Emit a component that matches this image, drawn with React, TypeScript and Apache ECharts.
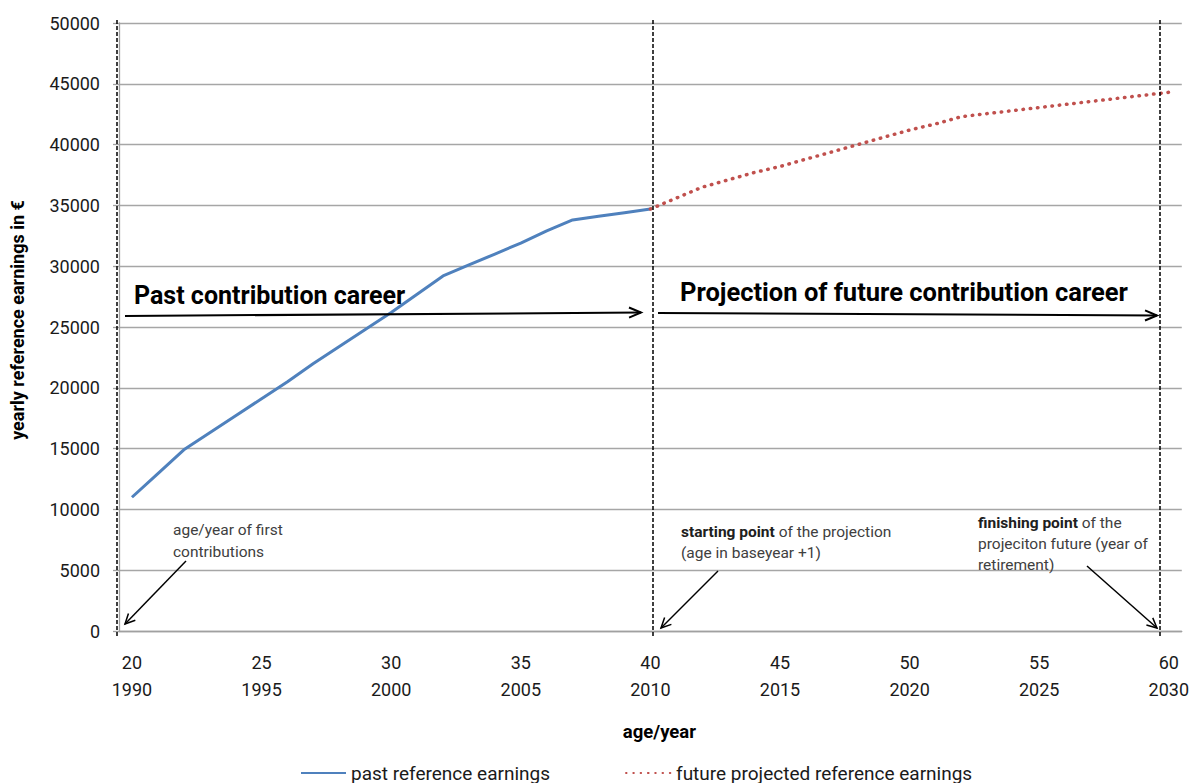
import React, { useEffect, useRef } from "react";
import * as echarts from "echarts";

const ages = [
  "20", "21", "22", "23", "24", "25", "26", "27", "28", "29",
  "30", "31", "32", "33", "34", "35", "36", "37", "38", "39",
  "40", "41", "42", "43", "44", "45", "46", "47", "48", "49",
  "50", "51", "52", "53", "54", "55", "56", "57", "58", "59", "60",
];
const years = [
  "1990", "1991", "1992", "1993", "1994", "1995", "1996", "1997", "1998", "1999",
  "2000", "2001", "2002", "2003", "2004", "2005", "2006", "2007", "2008", "2009",
  "2010", "2011", "2012", "2013", "2014", "2015", "2016", "2017", "2018", "2019",
  "2020", "2021", "2022", "2023", "2024", "2025", "2026", "2027", "2028", "2029", "2030",
];

// past reference earnings, ages 20..40
const pastEarnings = [
  11000, 12950, 14900, 16300, 17700, 19100, 20500, 22000, 23400, 24800,
  26200, 27700, 29200, 30100, 31000, 31900, 32900, 33800, 34100, 34400, 34700,
];
// future projected reference earnings, ages 40..60
const futureEarnings = [
  34700, 35600, 36500, 37100, 37700, 38200, 38800, 39400, 40000, 40600,
  41200, 41700, 42300, 42550, 42800, 43050, 43300, 43550, 43800, 44050, 44300,
];

const yMin = 0;
const yMax = 50000;
const yStep = 5000;

const FONT = "Roboto, 'Noto Sans', sans-serif";

function arrow(x1: number, y1: number, x2: number, y2: number, head: number, spread: number, width: number) {
  const ang = Math.atan2(y2 - y1, x2 - x1);
  const a1 = ang + Math.PI - spread;
  const a2 = ang + Math.PI + spread;
  return [
    { type: "line", z: 100, shape: { x1, y1, x2, y2 }, style: { stroke: "#000", lineWidth: width } },
    {
      type: "polyline",
      z: 100,
      shape: {
        points: [
          [x2 + head * Math.cos(a1), y2 + head * Math.sin(a1)],
          [x2, y2],
          [x2 + head * Math.cos(a2), y2 + head * Math.sin(a2)],
        ],
      },
      style: { stroke: "#000", lineWidth: width, fill: null },
    },
  ];
}

function vDash(x: number) {
  return {
    type: "line",
    z: 100,
    shape: { x1: x, y1: 20, x2: x, y2: 636 },
    style: { stroke: "#000", lineWidth: 1.5, lineDash: [4, 2] },
  };
}

export default function App() {
  const ref = useRef<HTMLDivElement>(null);

  useEffect(() => {
    if (!ref.current) return;
    const chart = echarts.init(ref.current, null, { renderer: "svg" });

    const pastData = ages.map((_, i) => (i < pastEarnings.length ? pastEarnings[i] : null));
    const futureStart = ages.length - futureEarnings.length;
    const futureData = ages.map((_, i) => (i >= futureStart ? futureEarnings[i - futureStart] : null));

    const smallText = {
      fontSize: 15.5,
      fontFamily: FONT,
      fill: "#404040",
      lineHeight: 21,
    };
    const boldRich = { b: { fontSize: 15.5, fontFamily: FONT, fontWeight: "bold", fill: "#202020", lineHeight: 21 } };

    chart.setOption({
      animation: false,
      backgroundColor: "#fff",
      grid: { left: 116, top: 23, width: 1068, height: 608, containLabel: false },
      xAxis: {
        type: "category",
        data: ages,
        boundaryGap: true,
        name: "age/year",
        nameLocation: "middle",
        nameGap: 91,
        nameTextStyle: { fontSize: 18.5, fontWeight: "bold", fontFamily: FONT, color: "#000", padding: [0, 0, 0, 18] },
        axisLine: { lineStyle: { color: "#a0a0a0", width: 1.3 } },
        axisTick: { interval: 4, length: 5, lineStyle: { color: "#a0a0a0", width: 1.3 } },
        axisLabel: {
          interval: 4,
          margin: 18,
          fontSize: 18,
          lineHeight: 27,
          fontFamily: FONT,
          color: "#1a1a1a",
          formatter: (v: string, idx: number) => `${v}\n${years[idx]}`,
        },
        splitLine: { show: false },
      },
      yAxis: {
        type: "value",
        min: yMin,
        max: yMax,
        interval: yStep,
        name: "yearly reference earnings in €",
        nameLocation: "middle",
        nameGap: 93,
        nameTextStyle: { fontSize: 18, fontWeight: "bold", fontFamily: FONT, color: "#000", padding: [0, 0, 0, 14] },
        axisLine: { show: true, lineStyle: { color: "#a0a0a0", width: 1.3 } },
        axisTick: { show: true, length: 6, lineStyle: { color: "#a0a0a0", width: 1.3 } },
        axisLabel: {
          margin: 19,
          fontSize: 18,
          fontFamily: FONT,
          color: "#1a1a1a",
          formatter: (v: number) => String(v),
        },
        splitLine: { lineStyle: { color: "#a6a6a6", width: 1.3 } },
      },
      legend: {
        left: 300,
        top: 763,
        padding: 0,
        itemWidth: 45,
        itemHeight: 2,
        itemGap: 75,
        textStyle: { fontSize: 19, lineHeight: 20, fontFamily: FONT, color: "#1a1a1a" },
        data: ["past reference earnings", "future projected reference earnings"],
      },
      series: [
        {
          name: "past reference earnings",
          type: "line",
          data: pastData,
          symbol: "none",
          showSymbol: false,
          connectNulls: false,
          lineStyle: { color: "#4F81BD", width: 3 },
          itemStyle: { color: "#4F81BD" },
          z: 5,
        },
        {
          name: "future projected reference earnings",
          type: "line",
          data: futureData,
          symbol: "none",
          showSymbol: false,
          connectNulls: false,
          lineStyle: { color: "#C0504D", width: 3.5, type: [0.5, 6.8], cap: "round" },
          itemStyle: { color: "#C0504D" },
          z: 5,
        },
      ],
      graphic: [
        vDash(117),
        vDash(653),
        vDash(1160),
        ...arrow(125, 316, 641, 312.5, 13, 0.4, 2),
        ...arrow(658, 313, 1157, 315.5, 13, 0.4, 2),
        ...arrow(186, 561, 125, 624, 11, 0.45, 1.5),
        ...arrow(718, 571, 661, 628, 11, 0.45, 1.5),
        ...arrow(1087, 566, 1157, 628, 11, 0.45, 1.5),
        {
          type: "text",
          z: 100,
          x: 134,
          y: 295,
          style: { text: "Past contribution career", fontSize: 25, fontWeight: "bold", fontFamily: FONT, fill: "#000", verticalAlign: "middle" },
        },
        {
          type: "text",
          z: 100,
          x: 680,
          y: 292,
          style: { text: "Projection of future contribution career", fontSize: 25.5, fontWeight: "bold", fontFamily: FONT, fill: "#000", verticalAlign: "middle" },
        },
        {
          type: "text",
          z: 100,
          x: 173,
          y: 519,
          style: { ...smallText, lineHeight: 22, text: "age/year of first\ncontributions", verticalAlign: "top" },
        },
        {
          type: "text",
          z: 100,
          x: 681,
          y: 521,
          style: { ...smallText, text: "{b|starting point} of the projection\n(age in baseyear +1)", rich: boldRich, verticalAlign: "top" },
        },
        {
          type: "text",
          z: 100,
          x: 978,
          y: 512,
          style: { ...smallText, text: "{b|finishing point} of the\nprojeciton future (year of\nretirement)", rich: boldRich, verticalAlign: "top" },
        },
      ],
    });

    return () => chart.dispose();
  }, []);

  return (
    <div
      ref={ref}
      style={{ position: "fixed", left: 0, top: 0, width: 1192, height: 783, background: "#fff" }}
    />
  );
}
